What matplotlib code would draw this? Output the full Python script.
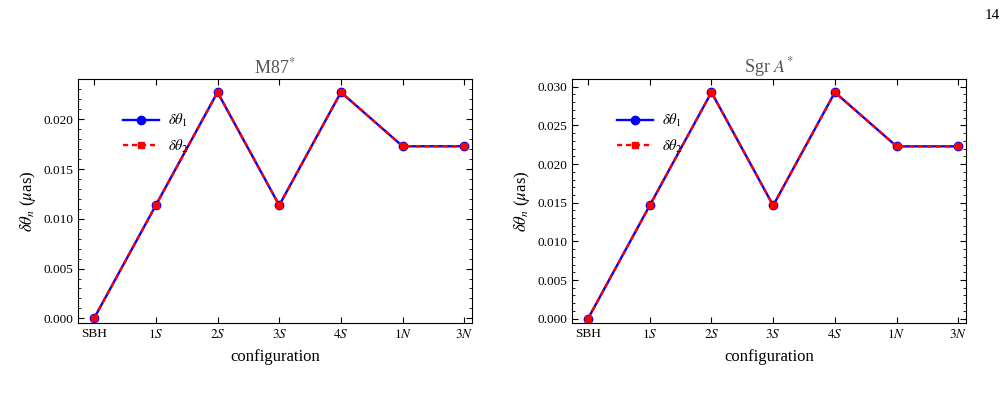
import matplotlib
matplotlib.use("Agg")
import matplotlib.pyplot as plt
from matplotlib.ticker import AutoMinorLocator

plt.rcParams['font.family'] = ['Liberation Serif', 'DejaVu Serif']
plt.rcParams['mathtext.fontset'] = 'stix'

# data
configs = ['SBH', '$1S$', '$2S$', '$3S$', '$4S$', '$1N$', '$3N$']
m87_d1 = [0.0, 0.01136, 0.02272, 0.01136, 0.02272, 0.01729, 0.01729]
m87_d2 = [0.0, 0.01136, 0.02272, 0.01136, 0.02272, 0.01729, 0.01729]
sgr_d1 = [0.0, 0.01464, 0.02928, 0.01464, 0.02928, 0.02229, 0.02229]
sgr_d2 = [0.0, 0.01464, 0.02928, 0.01464, 0.02928, 0.02229, 0.02229]

titles = [r'M87$^{*}$', r'Sgr $A^{*}$']
series = [(m87_d1, m87_d2), (sgr_d1, sgr_d2)]
ylims = [(-0.00047, 0.02405), (-0.00056, 0.0310)]
lefts = [0.0775, 0.568]

fig = plt.figure(figsize=(10.07, 4.0), dpi=100)

for k in range(2):
    ax = fig.add_axes([lefts[k], 0.1925, 0.391, 0.61])
    x = list(range(len(configs)))
    d1, d2 = series[k]
    ax.plot(x, d1, '-', color='blue', lw=1.7, marker='o', ms=6, label=r'$\delta\theta_1$')
    ax.plot(x, d2, color='red', lw=1.7, ls=(0, (2.2, 1.6)), marker='s', ms=5,
            label=r'$\delta\theta_2$')
    ax.set_xlim(-0.26, 6.12)
    ax.set_ylim(*ylims[k])
    ax.set_xticks(x)
    ax.set_xticklabels(configs, fontsize=9.5)
    ax.tick_params(axis='y', labelsize=9.5)
    ax.yaxis.set_major_formatter(matplotlib.ticker.FormatStrFormatter('%.3f'))
    ax.yaxis.set_minor_locator(AutoMinorLocator(5))
    ax.tick_params(which='both', direction='in', top=True, right=True)
    ax.tick_params(which='major', length=4)
    ax.tick_params(which='minor', length=2)
    ax.set_title(titles[k], fontsize=13, color='#555555', pad=4)
    ax.set_xlabel('configuration', fontsize=12, labelpad=6)
    ax.set_ylabel(r'$\delta\theta_n$ ($\mu$as)', fontsize=12)
    ax.legend(loc='upper left', bbox_to_anchor=(0.08, 0.92), frameon=False,
              fontsize=10.5, handlelength=2.5, handletextpad=0.6, labelspacing=0.6)

fig.text(0.993, 0.962, '14', fontsize=11, ha='right', va='center')

fig.savefig('out.png', dpi=100)
